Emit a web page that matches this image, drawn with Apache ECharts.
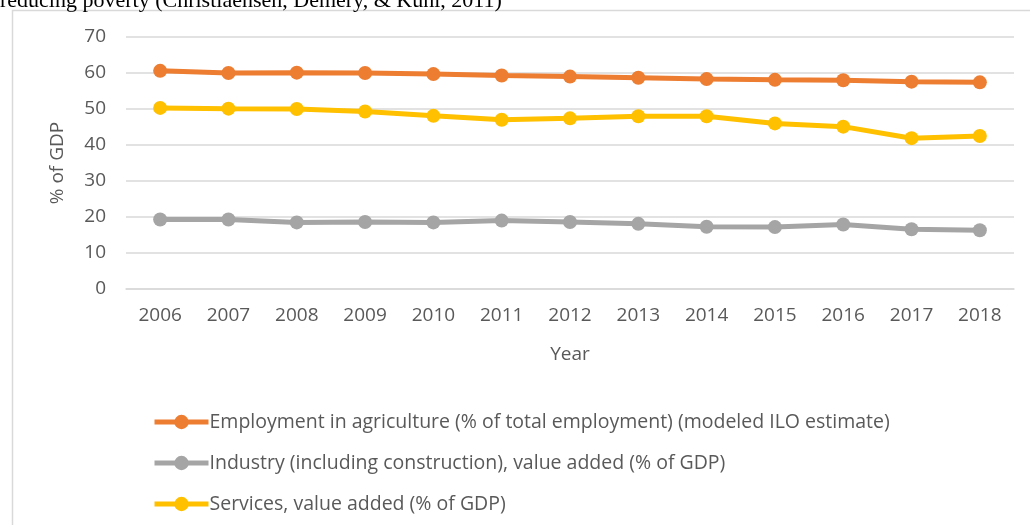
<!DOCTYPE html>
<html><head><meta charset="utf-8">
<script src="https://cdn.jsdelivr.net/npm/echarts@6/dist/echarts.min.js"></script>
<style>html,body{margin:0;padding:0;background:#fff}#c{width:1030px;height:525px}</style>
</head><body><div id="c"></div>
<script>
const years = ['2006','2007','2008','2009','2010','2011','2012','2013','2014','2015','2016','2017','2018'];
const agriculture = [60.6,60.0,60.1,60.0,59.7,59.3,59.0,58.7,58.3,58.1,58.0,57.6,57.4];
const industry = [19.3,19.3,18.5,18.6,18.5,19.0,18.6,18.1,17.3,17.2,17.9,16.6,16.3];
const services = [50.3,50.1,50.0,49.3,48.1,47.0,47.4,48.0,48.0,46.0,45.1,41.9,42.5];
const names = ['Employment in agriculture (% of total employment) (modeled ILO estimate)',
  'Industry (including construction), value added (% of GDP)',
  'Services, value added (% of GDP)'];
const colors = ['#ED7D31','#A5A5A5','#FFC000'];
const font = '"Open Sans", sans-serif';
const chart = echarts.init(document.getElementById('c'));
function ser(i, data){
  return {name:names[i], type:'line', data:data, symbol:'circle', symbolSize:14,
    lineStyle:{width:5,color:colors[i]}, itemStyle:{color:colors[i]}, animation:false};
}
chart.setOption({
  animation:false,
  color:colors,
  graphic:[
    {type:'rect', shape:{x:12.5,y:10.5,width:1100,height:700}, style:{fill:'none',stroke:'#d9d9d9',lineWidth:1.5}},
    {type:'text', x:0, y:12, style:{text:'reducing poverty (Christiaensen, Demery, & Kuhl, 2011)', font:'22px "Liberation Serif"', fill:'#000', verticalAlign:'bottom'}}
  ],
  grid:{left:126, right:16, top:37, bottom:236},
  xAxis:{type:'category', data:years, boundaryGap:true,
    axisLine:{lineStyle:{color:'#d9d9d9',width:1.5}}, axisTick:{show:false},
    axisLabel:{color:'#595959', fontSize:19, fontFamily:font, margin:17},
    name:'Year', nameLocation:'middle', nameGap:56,
    nameTextStyle:{color:'#595959', fontSize:19, fontFamily:font}},
  yAxis:{type:'value', min:0, max:70, interval:10,
    axisLine:{show:false}, axisTick:{show:false},
    splitLine:{lineStyle:{color:'#d9d9d9',width:1.5}},
    axisLabel:{color:'#595959', fontSize:19, fontFamily:font, margin:20},
    name:'% of GDP', nameLocation:'middle', nameGap:59, nameRotate:90,
    nameTextStyle:{color:'#595959', fontSize:19, fontFamily:font}},
  legend:{orient:'vertical', left:147, top:407, height:117, width:860, itemWidth:54, itemHeight:18, itemGap:21,
    lineStyle:{width:5},
    textStyle:{color:'#595959', fontSize:19.5, fontFamily:font, padding:[0,0,0,-4]},
    data:names},
  series:[ser(0,agriculture), ser(1,industry), ser(2,services)]
});
</script></body></html>
